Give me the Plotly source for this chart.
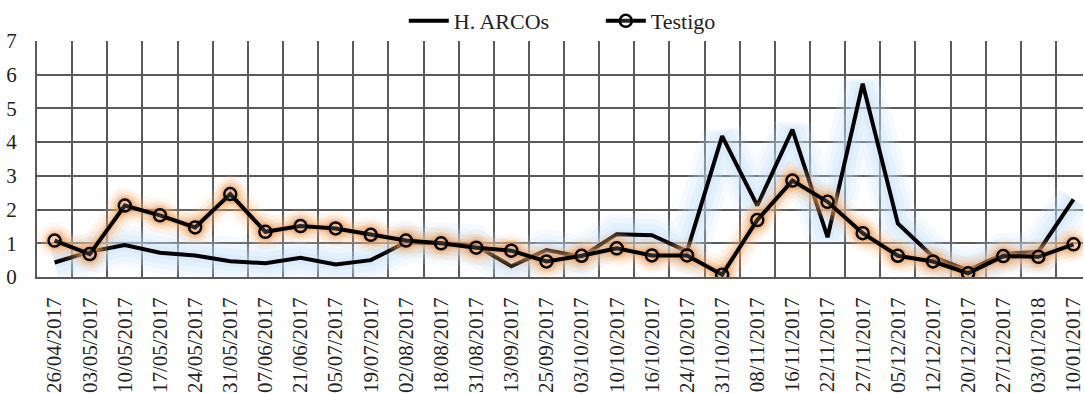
import plotly.graph_objects as go

# Sampling dates (category axis)
dates = ["26/04/2017", "03/05/2017", "10/05/2017", "17/05/2017", "24/05/2017",
         "31/05/2017", "07/06/2017", "21/06/2017", "05/07/2017", "19/07/2017",
         "02/08/2017", "18/08/2017", "31/08/2017", "13/09/2017", "25/09/2017",
         "03/10/2017", "10/10/2017", "16/10/2017", "24/10/2017", "31/10/2017",
         "08/11/2017", "16/11/2017", "22/11/2017", "27/11/2017", "05/12/2017",
         "12/12/2017", "20/12/2017", "27/12/2017", "03/01/2018", "10/01/2017"]

h_arcos = [0.43, 0.75, 0.95, 0.72, 0.64, 0.47, 0.41, 0.57, 0.37, 0.50,
           1.03, 1.00, 0.93, 0.32, 0.80, 0.60, 1.27, 1.24, 0.76, 4.18,
           2.12, 4.37, 1.18, 5.73, 1.59, 0.60, 0.20, 0.68, 0.75, 2.30]

testigo = [1.08, 0.68, 2.12, 1.83, 1.47, 2.46, 1.34, 1.51, 1.44, 1.25,
           1.08, 1.00, 0.87, 0.78, 0.46, 0.63, 0.85, 0.64, 0.64, 0.07,
           1.69, 2.86, 2.23, 1.30, 0.63, 0.46, 0.11, 0.62, 0.60, 0.97]

y_ticks = [0, 1, 2, 3, 4, 5, 6, 7]

FONT = "Times New Roman, Liberation Serif, DejaVu Serif, serif"
GRID = "#5a5a5a"
TEXT = "#222222"

fig = go.Figure()

# soft glow under the H. ARCOs line
for w, c in [(42, "rgba(200,225,250,0.16)"), (32, "rgba(200,225,250,0.18)"),
             (22, "rgba(195,222,250,0.22)"), (12, "rgba(190,220,250,0.25)")]:
    fig.add_trace(go.Scatter(x=dates, y=h_arcos, mode="lines",
                             line=dict(color=c, width=w),
                             hoverinfo="skip", showlegend=False))

fig.add_trace(go.Scatter(x=dates, y=h_arcos, mode="lines", name="H. ARCOs",
                         line=dict(color="black", width=4)))

# soft glow under the Testigo line and markers
for w, s, c in [(30, 36, "rgba(248,190,135,0.10)"), (22, 28, "rgba(246,175,110,0.14)"),
                (14, 22, "rgba(242,155,80,0.20)"), (8, 18, "rgba(238,140,60,0.25)")]:
    fig.add_trace(go.Scatter(x=dates, y=testigo, mode="lines+markers",
                             line=dict(color=c, width=w),
                             marker=dict(color=c, size=s, line=dict(width=0)),
                             hoverinfo="skip", showlegend=False))

fig.add_trace(go.Scatter(x=dates, y=testigo, mode="lines+markers", name="Testigo",
                         line=dict(color="black", width=4),
                         marker=dict(symbol="circle", size=12, color="rgba(255,255,255,0.15)",
                                     line=dict(color="black", width=2.5))))

n = len(dates)
fig.update_layout(
    width=1085, height=394,
    margin=dict(l=37, r=0, t=41, b=117),
    paper_bgcolor="white", plot_bgcolor="white",
    font=dict(family=FONT, size=21, color=TEXT),
    showlegend=True,
    legend=dict(orientation="h", x=0.539, xanchor="center", y=1.085, yanchor="middle",
                font=dict(family=FONT, size=22, color=TEXT),
                bgcolor="rgba(0,0,0,0)", itemwidth=40,
                entrywidth=142, entrywidthmode="pixels"),
    xaxis=dict(type="category", categoryorder="array", categoryarray=dates,
               range=[-0.5, n - 0.73], tickson="boundaries",
               showgrid=True, gridcolor=GRID, gridwidth=2,
               showline=True, linecolor=GRID, linewidth=2,
               ticks="", tickangle=-90, ticklabelstandoff=10,
               tickfont=dict(family=FONT, size=21, color=TEXT),
               zeroline=False, fixedrange=True),
    yaxis=dict(range=[0, 7], tickvals=y_ticks, showgrid=True, gridcolor=GRID, gridwidth=2,
               showline=True, linecolor=GRID, linewidth=2, ticks="",
               ticklabelstandoff=14, zeroline=False,
               tickfont=dict(family=FONT, size=21, color=TEXT)),
)

fig.write_html("out.html")
